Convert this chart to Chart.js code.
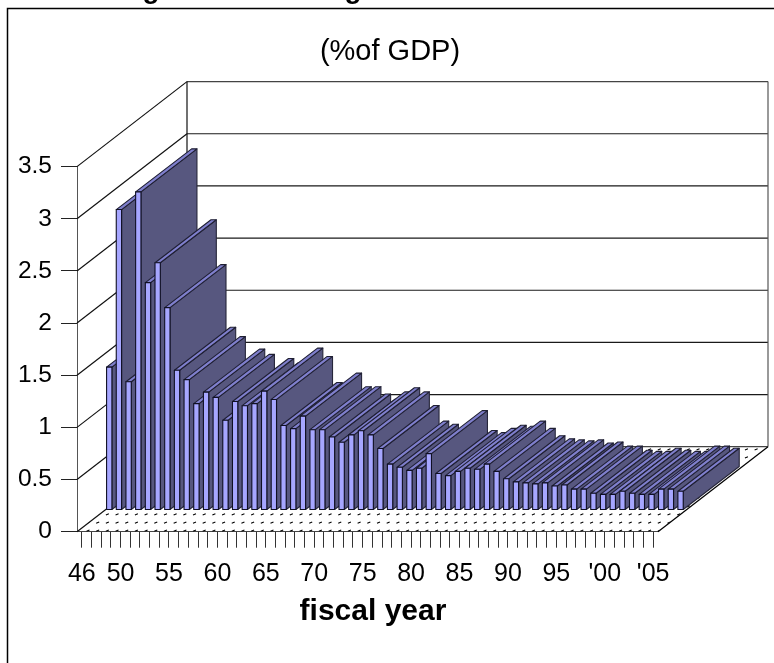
<!DOCTYPE html>
<html>
<head>
<meta charset="utf-8">
<title>(%of GDP)</title>
<script src="https://cdn.jsdelivr.net/npm/chart.js@4"></script>
<style>
    html, body { margin: 0; padding: 0; background: #fff; overflow: hidden; }
    canvas { display: block; }
</style>
</head>
<body>
<canvas id="gdpChart" width="774" height="663"></canvas>
<script>
// Fiscal years 1946-2005
const fiscalYears = [
    1946, 1947, 1948, 1949, 1950, 1951, 1952, 1953, 1954, 1955,
    1956, 1957, 1958, 1959, 1960, 1961, 1962, 1963, 1964, 1965,
    1966, 1967, 1968, 1969, 1970, 1971, 1972, 1973, 1974, 1975,
    1976, 1977, 1978, 1979, 1980, 1981, 1982, 1983, 1984, 1985,
    1986, 1987, 1988, 1989, 1990, 1991, 1992, 1993, 1994, 1995,
    1996, 1997, 1998, 1999, 2000, 2001, 2002, 2003, 2004, 2005
];

// Percent of GDP
const gdpShare = [
    1.37, 2.88, 1.23, 3.05, 2.18, 2.37, 1.94, 1.34, 1.25, 1.02,
    1.13, 1.08, 0.86, 1.04, 1.00, 1.02, 1.14, 1.06, 0.81, 0.78,
    0.90, 0.77, 0.77, 0.70, 0.65, 0.72, 0.76, 0.72, 0.59, 0.44,
    0.41, 0.38, 0.40, 0.54, 0.35, 0.33, 0.37, 0.40, 0.39, 0.44,
    0.37, 0.30, 0.27, 0.26, 0.25, 0.26, 0.23, 0.24, 0.20, 0.20,
    0.16, 0.15, 0.15, 0.18, 0.16, 0.15, 0.15, 0.20, 0.20, 0.18
];

const yearLabels = {
    1946: "46", 1950: "50", 1955: "55", 1960: "60", 1965: "65", 1970: "70",
    1975: "75", 1980: "80", 1985: "85", 1990: "90", 1995: "95", 2000: "'00", 2005: "'05"
};

const chartTitle = "(%of GDP)";
const xAxisTitle = "fiscal year";

// 3D box: how far the back wall sits from the front plane
const wallDX = 110, wallDY = 85;
// where bars start inside the box, and how deep they run
const barDX = 27.4, barDY = 21.7;
const barDepthX = 56, barDepthY = 43;

function line(ctx, x1, y1, x2, y2) {
    ctx.beginPath();
    ctx.moveTo(x1, y1);
    ctx.lineTo(x2, y2);
    ctx.stroke();
}

function poly(ctx, pts, fill, stroke) {
    ctx.beginPath();
    pts.forEach((p, i) => i ? ctx.lineTo(p[0], p[1]) : ctx.moveTo(p[0], p[1]));
    ctx.closePath();
    ctx.fillStyle = fill;
    ctx.fill();
    ctx.strokeStyle = stroke;
    ctx.stroke();
}

// Frame, cut-off heading and axis title
const framePlugin = {
    id: "frame",
    beforeDraw(chart) {
        const ctx = chart.ctx;
        ctx.save();
        ctx.strokeStyle = "#000";
        ctx.lineWidth = 1.5;
        ctx.beginPath();
        ctx.moveTo(7.5, 663);
        ctx.lineTo(7.5, 8.5);
        ctx.lineTo(774, 8.5);
        ctx.stroke();

        ctx.fillStyle = "#000";
        ctx.textAlign = "center";
        ctx.font = "bold 28px 'Liberation Sans'";
        ctx.fillText("g", 151, -2);
        ctx.fillText("g", 353, -2);

        ctx.font = "bold 30px 'Liberation Sans'";
        ctx.fillText(xAxisTitle, 373, 620);
        ctx.restore();
    }
};

// Walls and floor of the 3D box
const wallsPlugin = {
    id: "walls",
    beforeDatasetsDraw(chart) {
        const ctx = chart.ctx;
        const yScale = chart.scales.y;
        const left = chart.chartArea.left, right = chart.chartArea.right;
        const floorY = yScale.getPixelForValue(0);
        const topY = yScale.getPixelForValue(3.5);

        ctx.save();
        ctx.lineWidth = 1.2;

        // gridlines on the side and back wall
        yScale.ticks.forEach(t => {
            const y = yScale.getPixelForValue(t.value);
            ctx.strokeStyle = "#111";
            line(ctx, left, y, left + wallDX, y - wallDY);
            ctx.strokeStyle = t.value === 0 || t.value === 3.5 ? "#444" : "#1a1a1a";
            line(ctx, left + wallDX, y - wallDY, right + wallDX, y - wallDY);
        });
        ctx.strokeStyle = "#111";
        line(ctx, left + wallDX, topY - wallDY, left + wallDX, floorY - wallDY);
        ctx.strokeStyle = "#555";
        line(ctx, right + wallDX, topY - wallDY, right + wallDX, floorY - wallDY);
        ctx.strokeStyle = "#000";
        line(ctx, right, floorY, right + wallDX, floorY - wallDY);

        // dotted floor pattern
        ctx.beginPath();
        ctx.moveTo(left, floorY);
        ctx.lineTo(right, floorY);
        ctx.lineTo(right + wallDX, floorY - wallDY);
        ctx.lineTo(left + wallDX, floorY - wallDY);
        ctx.closePath();
        ctx.clip();
        ctx.strokeStyle = "#000";
        ctx.lineWidth = 1.1;
        for (let row = 0; row < 11; row++) {
            const y = floorY - 1 - row * 8.14;
            for (let x = 88; x < right + wallDX; x += 9.683) {
                line(ctx, x - 1.5, y + 0.6, x + 1.5, y - 0.6);
            }
        }
        ctx.restore();
    }
};

// Draws the bar elements as boxes, left to right so each covers the side of the last
const boxBarsPlugin = {
    id: "boxBars",
    beforeDatasetDraw(chart, args) {
        const ctx = chart.ctx;
        ctx.save();
        ctx.lineWidth = 1.1;
        ctx.lineJoin = "round";
        args.meta.data.forEach(bar => {
            const x0 = bar.x - bar.width / 2 + barDX;
            const x1 = bar.x + bar.width / 2 + barDX;
            const top = bar.y - barDY;
            const base = bar.base - barDY;
            poly(ctx, [[x1, base], [x1 + barDepthX, base - barDepthY], [x1 + barDepthX, top - barDepthY], [x1, top]], "#57577f", "#26263a");
            poly(ctx, [[x0, top], [x1, top], [x1 + barDepthX, top - barDepthY], [x0 + barDepthX, top - barDepthY]], "#7f7fcc", "#1f1f33");
            poly(ctx, [[x0, base], [x1, base], [x1, top], [x0, top]], "#a6a6ff", "#101024");
        });
        ctx.restore();
        return false;
    }
};

const ctx = document.getElementById("gdpChart").getContext("2d");
const gdpChart = new Chart(ctx, {
    type: "bar",
    data: {
        labels: fiscalYears,
        datasets: [{
            label: chartTitle,
            data: gdpShare,
            backgroundColor: "#a6a6ff",
            categoryPercentage: 1,
            barPercentage: 0.55
        }]
    },
    options: {
        responsive: false,
        animation: false,
        layout: { padding: { left: 6 } },
        plugins: {
            legend: { display: false },
            tooltip: { enabled: false },
            title: {
                display: true,
                text: chartTitle,
                color: "#000",
                font: { family: "'Liberation Sans'", size: 29, weight: "normal", lineHeight: 1.2 },
                padding: { top: 35, bottom: 96.8 }
            }
        },
        scales: {
            x: {
                afterFit(scale) { scale.height = 131.3; },
                border: { color: "#444" },
                grid: { offset: false, drawOnChartArea: false, tickLength: 16, color: "#333" },
                ticks: {
                    autoSkip: false,
                    maxRotation: 0,
                    color: "#000",
                    padding: 11,
                    font: { family: "'Liberation Sans'", size: 25 },
                    callback(value, index) { return yearLabels[fiscalYears[index]] || ""; }
                }
            },
            y: {
                min: 0,
                max: 3.5,
                afterFit(scale) { scale.width = 71; },
                border: { color: "#555" },
                grid: { drawOnChartArea: false, tickLength: 16, color: "#222" },
                ticks: {
                    stepSize: 0.5,
                    color: "#000",
                    padding: 9,
                    font: { family: "'Liberation Sans'", size: 24.5 },
                    callback(value) { return String(value); }
                }
            },
            // empty axis that only reserves the room the 3D depth needs on the right
            depthRoom: {
                position: "right",
                afterFit(scale) { scale.width = 116; },
                border: { display: false },
                grid: { display: false },
                ticks: { display: false }
            }
        }
    },
    plugins: [framePlugin, wallsPlugin, boxBarsPlugin]
});
</script>
</body>
</html>
